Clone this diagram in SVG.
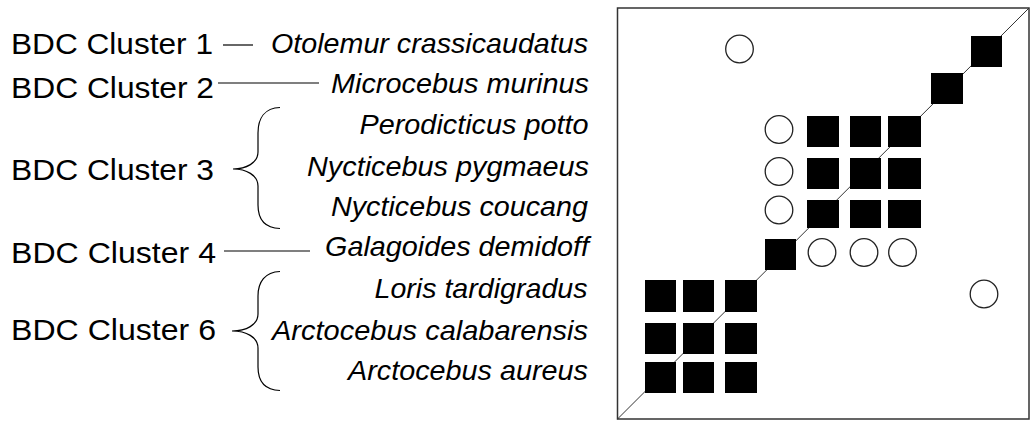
<svg xmlns="http://www.w3.org/2000/svg" width="1031" height="423" viewBox="0 0 1031 423">
<style>
.lab{font-family:"Liberation Sans",Arial,sans-serif;font-size:29.5px;fill:#000}
.sp{font-family:"Liberation Sans",Arial,sans-serif;font-size:27.8px;font-style:italic;fill:#000}
.ln{stroke:#000;stroke-width:1.2;fill:none}
.sq{fill:#000}
.ci{fill:#fff;stroke:#222;stroke-width:1.3}
</style>
<rect width="1031" height="423" fill="#fff"/>
<g id="labels">
<text class="lab" x="11" y="53.5" textLength="202" lengthAdjust="spacingAndGlyphs">BDC Cluster 1</text>
<text class="lab" x="11" y="97.5" textLength="203" lengthAdjust="spacingAndGlyphs">BDC Cluster 2</text>
<text class="lab" x="11" y="180" textLength="203" lengthAdjust="spacingAndGlyphs">BDC Cluster 3</text>
<text class="lab" x="11" y="262.5" textLength="205" lengthAdjust="spacingAndGlyphs">BDC Cluster 4</text>
<text class="lab" x="11" y="339.5" textLength="205" lengthAdjust="spacingAndGlyphs">BDC Cluster 6</text>
</g>
<g id="species">
<text class="sp" x="271" y="53" textLength="317" lengthAdjust="spacingAndGlyphs">Otolemur crassicaudatus</text>
<text class="sp" x="331" y="93" textLength="258" lengthAdjust="spacingAndGlyphs">Microcebus murinus</text>
<text class="sp" x="359.5" y="133.5" textLength="229" lengthAdjust="spacingAndGlyphs">Perodicticus potto</text>
<text class="sp" x="307" y="176" textLength="282" lengthAdjust="spacingAndGlyphs">Nycticebus pygmaeus</text>
<text class="sp" x="331" y="216" textLength="257" lengthAdjust="spacingAndGlyphs">Nycticebus coucang</text>
<text class="sp" x="325" y="256" textLength="264" lengthAdjust="spacingAndGlyphs">Galagoides demidoff</text>
<text class="sp" x="374.5" y="297.5" textLength="213" lengthAdjust="spacingAndGlyphs">Loris tardigradus</text>
<text class="sp" x="272" y="339.5" textLength="316" lengthAdjust="spacingAndGlyphs">Arctocebus calabarensis</text>
<text class="sp" x="348" y="380" textLength="240" lengthAdjust="spacingAndGlyphs">Arctocebus aureus</text>
</g>
<g id="connectors">
<line class="ln" x1="223" y1="45" x2="253" y2="45"/>
<line class="ln" x1="218" y1="83" x2="319" y2="83"/>
<line class="ln" x1="224" y1="251" x2="310" y2="251"/>
<path class="ln" d="M280,107.5 C265,108 258,118 258,133 L258,152 C258,163 246,169 233,169 C246,169 258,175 258,186 L258,205 C258,220 265,228 280,228.5"/>
<path class="ln" d="M280,271.5 C265,272 258,282 258,296 L258,314 C258,325 246,331 232,331 C246,331 258,337 258,348 L258,367 C258,382 265,390 280,390.5"/>
</g>
<g id="matrix">
<rect x="617.5" y="8" width="411.5" height="411" fill="none" stroke="#333" stroke-width="1.5"/>
<line x1="617.5" y1="419" x2="1029" y2="8" stroke="#333" stroke-width="1"/>
<rect class="sq" x="971" y="36" width="31" height="31"/>
<rect class="sq" x="931" y="73" width="32" height="31"/>
<rect class="sq" x="807" y="116" width="32" height="31"/>
<rect class="sq" x="850" y="116" width="31" height="31"/>
<rect class="sq" x="888" y="116" width="33" height="31"/>
<rect class="sq" x="807" y="158" width="32" height="31"/>
<rect class="sq" x="850" y="158" width="31" height="31"/>
<rect class="sq" x="888" y="158" width="33" height="31"/>
<rect class="sq" x="807" y="200" width="32" height="28"/>
<rect class="sq" x="850" y="200" width="31" height="28"/>
<rect class="sq" x="888" y="200" width="33" height="28"/>
<rect class="sq" x="765" y="239" width="31" height="31"/>
<rect class="sq" x="645" y="280" width="31" height="32"/>
<rect class="sq" x="683" y="280" width="31" height="32"/>
<rect class="sq" x="725" y="280" width="32" height="32"/>
<rect class="sq" x="645" y="323" width="31" height="31"/>
<rect class="sq" x="683" y="323" width="31" height="31"/>
<rect class="sq" x="725" y="323" width="32" height="31"/>
<rect class="sq" x="645" y="362" width="31" height="31"/>
<rect class="sq" x="683" y="362" width="31" height="31"/>
<rect class="sq" x="725" y="362" width="32" height="31"/>
<circle class="ci" cx="739.5" cy="49" r="13.8"/>
<circle class="ci" cx="779" cy="129.5" r="13.8"/>
<circle class="ci" cx="779" cy="171.5" r="13.8"/>
<circle class="ci" cx="779" cy="210" r="13.8"/>
<circle class="ci" cx="822" cy="252.5" r="13.8"/>
<circle class="ci" cx="864" cy="252.5" r="13.8"/>
<circle class="ci" cx="902.5" cy="252.5" r="13.8"/>
<circle class="ci" cx="984" cy="294" r="13.8"/>
</g>
</svg>
